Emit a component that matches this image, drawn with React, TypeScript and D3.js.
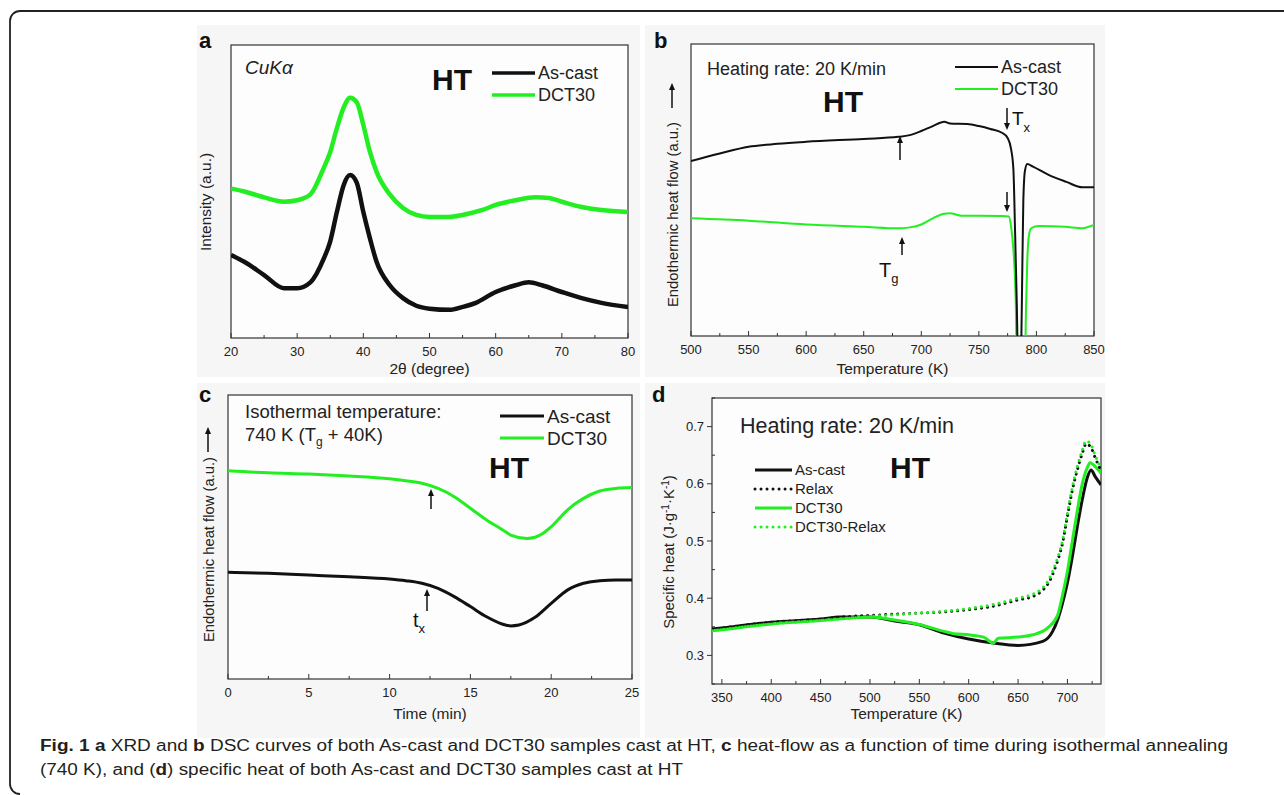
import React from 'react';
import * as d3 from 'd3';

const FONT = '"Liberation Sans", Arial, Helvetica, sans-serif';
const GREEN = '#22ee22';
const INK = '#111';
const AXIS = '#333';

// ---- panel a: XRD ----
const xrdAngleAsCast = [20, 22, 25, 28, 30, 32, 34, 35, 36, 37, 38, 39, 40, 41, 42, 44, 46, 48, 50, 53, 55, 57, 60, 63, 65, 67, 70, 73, 76, 80];
const xrdAsCast = [28.3, 26, 21.5, 17, 17, 19, 27, 33, 43, 52, 55.6, 53, 43, 34, 26, 18, 13.6, 11, 10, 9.6, 10.6, 12, 15.7, 18, 19, 18, 15.7, 13.6, 12, 10.6];
const xrdAngleDct30 = [20, 22, 25, 28, 30, 32, 34, 35, 36, 37, 38, 39, 40, 41, 42, 44, 46, 48, 50, 53, 55, 58, 60, 63, 66, 68, 70, 73, 76, 80];
const xrdDct30 = [51, 50, 48, 46.5, 47, 49, 58, 63.5, 71.6, 78.5, 82, 80.5, 72.7, 63.5, 56.7, 49, 44.4, 42, 41.3, 41.3, 42, 43.7, 45.4, 47, 48, 47.8, 46.5, 44.7, 43.7, 43];
const xrdTicks = [20, 30, 40, 50, 60, 70, 80];
const xrdMinor = [25, 35, 45, 55, 65, 75];

// ---- panel b: DSC ----
const dscTempAsCast = [500, 525, 550, 575, 600, 650, 680, 690, 700, 710, 720, 725, 740, 750, 760, 770, 775, 778, 780, 781.5, 783, 784.5, 786, 787.3, 788.6, 790, 792, 797, 811, 826, 840, 850];
const dscAsCast = [59.9, 62.5, 64.8, 65.8, 66.5, 67.5, 68.2, 68.8, 70.2, 71.9, 73.4, 72.8, 72.6, 71.9, 70.9, 69.6, 67.8, 64, 57, 35, 10, -20, -20, 10, 46, 56.5, 58.9, 58, 55.1, 52.8, 50.9, 50.9];
const dscTempDct30 = [500, 550, 600, 650, 680, 690, 700, 710, 720, 725, 735, 750, 770, 776, 778, 780, 782, 783.5, 789.5, 791, 792, 793.5, 795.5, 802, 825, 840, 850];
const dscDct30 = [40.3, 39.5, 38.2, 37.4, 36.9, 37.2, 38.2, 40.3, 41.9, 42, 41.2, 41.2, 41.1, 40.9, 37.4, 29.5, 12.3, -20, -20, 10, 25, 34.5, 36.9, 37.7, 37.4, 36.9, 38];
const dscTicks = [500, 550, 600, 650, 700, 750, 800, 850];
const dscMinor = [525, 575, 625, 675, 725, 775, 825];

// ---- panel c: isothermal ----
const isoTimeDct30 = [0, 2.5, 5, 7.5, 10, 11, 12, 13, 14, 15, 16, 17, 17.5, 18.5, 19, 19.5, 20, 21, 22, 23, 24, 25];
const isoDct30 = [73.3, 72.6, 72.2, 71.5, 70.5, 69.8, 68.9, 67.1, 64.2, 60.1, 56, 52.5, 50.7, 49.5, 49.9, 51.3, 53.6, 59.5, 63.6, 66.2, 67.1, 67.4];
const isoTimeAsCast = [0, 2.5, 5, 7.5, 10, 11, 12, 13, 14, 15, 16, 17, 17.5, 18, 19, 20, 21, 22, 23, 24, 25];
const isoAsCast = [37.6, 37.2, 36.6, 36, 35.2, 34.6, 33.7, 31.9, 29, 25.5, 21.9, 19.3, 18.7, 19, 21.7, 26.6, 31.3, 33.7, 34.6, 34.9, 34.9];
const isoTicks = [0, 5, 10, 15, 20, 25];
const isoMinor = [2.5, 7.5, 12.5, 17.5, 22.5];

// ---- panel d: specific heat ----
const cpTempAsCast = [340, 350, 400, 450, 470, 500, 525, 550, 575, 600, 625, 650, 675, 685, 690, 695, 700, 705, 710, 715, 720, 724, 728, 734];
const cpAsCast = [0.346, 0.348, 0.358, 0.3635, 0.367, 0.367, 0.36, 0.3536, 0.339, 0.3286, 0.3216, 0.3175, 0.3245, 0.342, 0.362, 0.391, 0.427, 0.473, 0.525, 0.572, 0.61, 0.624, 0.613, 0.598];
const cpTempDct30 = [340, 350, 400, 450, 500, 525, 550, 575, 585, 600, 615, 625, 630, 650, 665, 680, 690, 695, 700, 705, 710, 715, 720, 723, 727, 734];
const cpDct30 = [0.343, 0.345, 0.355, 0.361, 0.367, 0.362, 0.354, 0.342, 0.338, 0.336, 0.332, 0.3216, 0.33, 0.332, 0.336, 0.348, 0.37, 0.405, 0.447, 0.5, 0.553, 0.6, 0.628, 0.637, 0.632, 0.619];
const cpTempRelax = [340, 350, 400, 450, 470, 500, 525, 550, 575, 600, 625, 650, 665, 675, 681, 688, 695, 700, 705, 710, 715, 719, 724, 728, 734];
const cpRelax = [0.346, 0.348, 0.358, 0.3635, 0.367, 0.37, 0.372, 0.374, 0.376, 0.38, 0.386, 0.397, 0.403, 0.414, 0.427, 0.455, 0.496, 0.543, 0.589, 0.624, 0.653, 0.67, 0.663, 0.646, 0.623];
const cpTempDctRelax = [340, 400, 450, 500, 550, 600, 625, 650, 665, 675, 681, 688, 695, 700, 705, 710, 715, 719, 724, 728, 734];
const cpDctRelax = [0.343, 0.355, 0.361, 0.368, 0.374, 0.382, 0.389, 0.4, 0.407, 0.418, 0.432, 0.46, 0.5, 0.548, 0.594, 0.63, 0.658, 0.675, 0.668, 0.65, 0.628];
const cpXTicks = [350, 400, 450, 500, 550, 600, 650, 700];
const cpXMinor = [375, 425, 475, 525, 575, 625, 675, 725];
const cpYTicks = [0.3, 0.4, 0.5, 0.6, 0.7];
const cpYMinor = [0.25, 0.35, 0.45, 0.55, 0.65, 0.75];

const xy = (xs: number[], ys: number[]) => xs.map((x, i) => [x, ys[i]] as [number, number]);

function Arrow({ x, from, to }: { x: number; from: number; to: number }) {
  const dir = to < from ? -1 : 1;
  const head = 7;
  const base = to - dir * head;
  return (
    <g>
      <line x1={x} x2={x} y1={from} y2={base} stroke={INK} strokeWidth={1.5} />
      <path d={`M${x - 3},${base} L${x + 3},${base} L${x},${to} Z`} fill={INK} />
    </g>
  );
}

function Frame({ id, box, x, xTicks, xMinor, xTitle, y, yTicks, yMinor, yFmt }: any) {
  const w = box.right - box.left;
  const h = box.bottom - box.top;
  return (
    <g fontFamily={FONT}>
      <defs>
        <clipPath id={id}>
          <rect x={box.left} y={box.top} width={w} height={h} />
        </clipPath>
      </defs>
      <rect x={box.left} y={box.top} width={w} height={h} fill="#fdfdfd" />
      {xTicks.map((t: number) => (
        <line key={'xt' + t} x1={x(t)} x2={x(t)} y1={box.bottom} y2={box.bottom - 5} stroke={AXIS} strokeWidth={1} />
      ))}
      {xMinor.map((t: number) => (
        <line key={'xm' + t} x1={x(t)} x2={x(t)} y1={box.bottom} y2={box.bottom - 3} stroke={AXIS} strokeWidth={1} />
      ))}
      {xTicks.map((t: number) => (
        <text key={'xl' + t} x={x(t)} y={box.bottom + 17.5} fontSize={13} textAnchor="middle" fill="#222">
          {t}
        </text>
      ))}
      {y &&
        yTicks.map((t: number) => (
          <g key={'yt' + t}>
            <line x1={box.left - 5} x2={box.left} y1={y(t)} y2={y(t)} stroke={AXIS} strokeWidth={1} />
            <text x={box.left - 8} y={y(t) + 4.5} fontSize={13} textAnchor="end" fill="#222">
              {yFmt(t)}
            </text>
          </g>
        ))}
      {y &&
        yMinor.map((t: number) => (
          <line key={'ym' + t} x1={box.left} x2={box.left + 3} y1={y(t)} y2={y(t)} stroke={AXIS} strokeWidth={1} />
        ))}
      <rect x={box.left} y={box.top} width={w} height={h} fill="none" stroke={AXIS} strokeWidth={1.2} />
      <text x={(box.left + box.right) / 2} y={box.bottom + xTitle.dy} fontSize={15.5} textAnchor="middle" fill="#222">
        {xTitle.text}
      </text>
    </g>
  );
}

function LegendRow({ x1, x2, y, label, color, width, dash, size }: any) {
  return (
    <g>
      <line x1={x1} x2={x2} y1={y} y2={y} stroke={color} strokeWidth={width} strokeDasharray={dash} strokeLinecap={dash ? 'round' : 'butt'} />
      <text x={x2 + 3} y={y + size * 0.36} fontSize={size} fontFamily={FONT} fill="#222">
        {label}
      </text>
    </g>
  );
}

export default function App() {
  // a
  const boxA = { left: 231, top: 45, right: 628, bottom: 338 };
  const xA = d3.scaleLinear().domain([20, 80]).range([boxA.left, boxA.right]);
  const yA = d3.scaleLinear().domain([0, 100]).range([boxA.bottom, boxA.top]);
  const lineA = d3.line().x((d: any) => xA(d[0])).y((d: any) => yA(d[1])).curve(d3.curveMonotoneX);

  // b
  const boxB = { left: 691, top: 44, right: 1094, bottom: 336 };
  const xB = d3.scaleLinear().domain([500, 850]).range([boxB.left, boxB.right]);
  const yB = d3.scaleLinear().domain([0, 100]).range([boxB.bottom, boxB.top]);
  const lineB = d3.line().x((d: any) => xB(d[0])).y((d: any) => yB(d[1])).curve(d3.curveMonotoneX);

  // c
  const boxC = { left: 228, top: 395, right: 632, bottom: 679 };
  const xC = d3.scaleLinear().domain([0, 25]).range([boxC.left, boxC.right]);
  const yC = d3.scaleLinear().domain([0, 100]).range([boxC.bottom, boxC.top]);
  const lineC = d3.line().x((d: any) => xC(d[0])).y((d: any) => yC(d[1])).curve(d3.curveMonotoneX);

  // d
  const boxD = { left: 712, top: 398, right: 1101, bottom: 684 };
  const xD = d3.scaleLinear().domain([340, 734]).range([boxD.left, boxD.right]);
  const yD = d3.scaleLinear().domain([0.25, 0.75]).range([boxD.bottom, boxD.top]);
  const lineD = d3.line().x((d: any) => xD(d[0])).y((d: any) => yD(d[1])).curve(d3.curveMonotoneX);

  const dots = '0.01 6';

  return (
    <svg width={1284} height={795} style={{ position: 'absolute', left: 0, top: 0, background: '#fff' }} fontFamily={FONT}>
      {/* outer frame */}
      <path d="M1290,11 H20 A10,10 0 0 0 10,21 V784 A10,10 0 0 0 20,794" fill="none" stroke="#222" strokeWidth={1.8} />

      {/* panel backgrounds */}
      <rect x={197} y={25} width={443} height={352} fill="#f6f6f6" />
      <rect x={645} y={25} width={460} height={352} fill="#f6f6f6" />
      <rect x={197} y={383} width={443} height={355} fill="#f6f6f6" />
      <rect x={645} y={383} width={460} height={355} fill="#f6f6f6" />

      {/* ---------- a ---------- */}
      <Frame id="clipA" box={boxA} x={xA} xTicks={xrdTicks} xMinor={xrdMinor} xTitle={{ text: '2θ (degree)', dy: 36 }} />
      <g clipPath="url(#clipA)">
        <path d={lineA(xy(xrdAngleDct30, xrdDct30) as any) || ''} fill="none" stroke={GREEN} strokeWidth={4.5} strokeLinejoin="round" />
        <path d={lineA(xy(xrdAngleAsCast, xrdAsCast) as any) || ''} fill="none" stroke={INK} strokeWidth={4.5} strokeLinejoin="round" />
      </g>
      <text x={210.5} y={202} transform="rotate(-90 210.5 202)" fontSize={15.5} textAnchor="middle" fill="#222">
        Intensity (a.u.)
      </text>
      <text x={245} y={74} fontSize={19} fontStyle="italic" fill="#222">
        CuKα
      </text>
      <text x={432} y={90} fontSize={30} fontWeight="bold" fill={INK}>
        HT
      </text>
      <LegendRow x1={492} x2={535} y={73} label="As-cast" color={INK} width={3.5} size={18} />
      <LegendRow x1={492} x2={535} y={95} label="DCT30" color={GREEN} width={3.5} size={18} />
      <text x={199} y={48} fontSize={22} fontWeight="bold" fill={INK}>
        a
      </text>

      {/* ---------- b ---------- */}
      <Frame id="clipB" box={boxB} x={xB} xTicks={dscTicks} xMinor={dscMinor} xTitle={{ text: 'Temperature (K)', dy: 38 }} />
      <g clipPath="url(#clipB)">
        <path d={lineB(xy(dscTempDct30, dscDct30) as any) || ''} fill="none" stroke={GREEN} strokeWidth={2} />
        <path d={lineB(xy(dscTempAsCast, dscAsCast) as any) || ''} fill="none" stroke={INK} strokeWidth={2} />
      </g>
      <text x={677.5} y={307} transform="rotate(-90 677.5 307)" fontSize={14.8} textAnchor="start" fill="#222">
        Endothermic heat flow (a.u.)
      </text>
      <Arrow x={672} from={108} to={83} />
      <text x={707} y={75} fontSize={18} fill="#222">
        Heating rate: 20 K/min
      </text>
      <text x={823} y={112} fontSize={30} fontWeight="bold" fill={INK}>
        HT
      </text>
      <LegendRow x1={955} x2={998} y={67} label="As-cast" color={INK} width={2} size={18} />
      <LegendRow x1={955} x2={998} y={89} label="DCT30" color={GREEN} width={2} size={18} />
      <Arrow x={900} from={160} to={136} />
      <Arrow x={902} from={255} to={237} />
      <Arrow x={1007} from={108} to={130} />
      <Arrow x={1007} from={192} to={212} />
      <text x={879} y={277} fontSize={20} fill={INK}>
        T<tspan dy={6} fontSize={13}>g</tspan>
      </text>
      <text x={1012} y={125} fontSize={19} fill={INK}>
        T<tspan dy={7} fontSize={13}>x</tspan>
      </text>
      <text x={654} y={48} fontSize={22} fontWeight="bold" fill={INK}>
        b
      </text>

      {/* ---------- c ---------- */}
      <Frame id="clipC" box={boxC} x={xC} xTicks={isoTicks} xMinor={isoMinor} xTitle={{ text: 'Time (min)', dy: 40 }} />
      <g clipPath="url(#clipC)">
        <path d={lineC(xy(isoTimeDct30, isoDct30) as any) || ''} fill="none" stroke={GREEN} strokeWidth={3} />
        <path d={lineC(xy(isoTimeAsCast, isoAsCast) as any) || ''} fill="none" stroke={INK} strokeWidth={3} />
      </g>
      <text x={213.5} y={642} transform="rotate(-90 213.5 642)" fontSize={14.8} textAnchor="start" fill="#222">
        Endothermic heat flow (a.u.)
      </text>
      <Arrow x={208} from={452} to={427} />
      <text x={245} y={418} fontSize={18.5} fill="#222">
        Isothermal temperature:
      </text>
      <text x={245} y={441} fontSize={18.5} fill="#222">
        740 K (T<tspan dy={5} fontSize={12}>g</tspan>
        <tspan dy={-5}> + 40K)</tspan>
      </text>
      <text x={489} y={478} fontSize={30} fontWeight="bold" fill={INK}>
        HT
      </text>
      <LegendRow x1={500} x2={544} y={416} label="As-cast" color={INK} width={3} size={19} />
      <LegendRow x1={500} x2={544} y={438} label="DCT30" color={GREEN} width={3} size={19} />
      <Arrow x={431} from={509} to={489} />
      <Arrow x={427} from={611} to={589} />
      <text x={413} y={627} fontSize={20} fill={INK}>
        t<tspan dy={6} fontSize={13}>x</tspan>
      </text>
      <text x={199} y={402} fontSize={22} fontWeight="bold" fill={INK}>
        c
      </text>

      {/* ---------- d ---------- */}
      <Frame
        id="clipD"
        box={boxD}
        x={xD}
        xTicks={cpXTicks}
        xMinor={cpXMinor}
        xTitle={{ text: 'Temperature (K)', dy: 35 }}
        y={yD}
        yTicks={cpYTicks}
        yMinor={cpYMinor}
        yFmt={(v: number) => v.toFixed(1)}
      />
      <g clipPath="url(#clipD)">
        <path d={lineD(xy(cpTempAsCast, cpAsCast) as any) || ''} fill="none" stroke={INK} strokeWidth={3} />
        <path d={lineD(xy(cpTempDct30, cpDct30) as any) || ''} fill="none" stroke={GREEN} strokeWidth={3} />
        <path d={lineD(xy(cpTempRelax, cpRelax) as any) || ''} fill="none" stroke={INK} strokeWidth={3} strokeDasharray={dots} strokeLinecap="round" />
        <path d={lineD(xy(cpTempDctRelax, cpDctRelax) as any) || ''} fill="none" stroke={GREEN} strokeWidth={3} strokeDasharray={dots} strokeLinecap="round" />
      </g>
      <text x={673.5} y={552} transform="rotate(-90 673.5 552)" fontSize={15} textAnchor="middle" fill="#222">
        Specific heat (J·g<tspan dy={-5} fontSize={10}>-1</tspan>
        <tspan dy={5}>·K</tspan>
        <tspan dy={-5} fontSize={10}>-1</tspan>
        <tspan dy={5}>)</tspan>
      </text>
      <text x={740} y={433} fontSize={21.5} fill="#222">
        Heating rate: 20 K/min
      </text>
      <text x={890} y={478} fontSize={30} fontWeight="bold" fill={INK}>
        HT
      </text>
      <LegendRow x1={755} x2={792} y={470} label="As-cast" color={INK} width={3} size={15} />
      <LegendRow x1={755} x2={792} y={489} label="Relax" color={INK} width={3} size={15} dash={dots} />
      <LegendRow x1={755} x2={792} y={508} label="DCT30" color={GREEN} width={3} size={15} />
      <LegendRow x1={755} x2={792} y={527} label="DCT30-Relax" color={GREEN} width={3} size={15} dash={dots} />
      <text x={652} y={402} fontSize={22} fontWeight="bold" fill={INK}>
        d
      </text>

      {/* ---------- caption ---------- */}
      <g fontFamily={'"Liberation Sans Narrow", "Liberation Sans", Arial, sans-serif'} fontSize={16} fill="#231f20">
        <text x={40} y={751} textLength={1188} lengthAdjust="spacingAndGlyphs">
          <tspan fontWeight="bold">Fig. 1 a</tspan> XRD and <tspan fontWeight="bold">b</tspan> DSC curves of both As-cast and DCT30 samples cast at HT, <tspan fontWeight="bold">c</tspan> heat-flow as a function of time during isothermal annealing
        </text>
        <text x={40} y={775} textLength={643} lengthAdjust="spacingAndGlyphs">
          (740 K), and (<tspan fontWeight="bold">d</tspan>) specific heat of both As-cast and DCT30 samples cast at HT
        </text>
      </g>
    </svg>
  );
}
